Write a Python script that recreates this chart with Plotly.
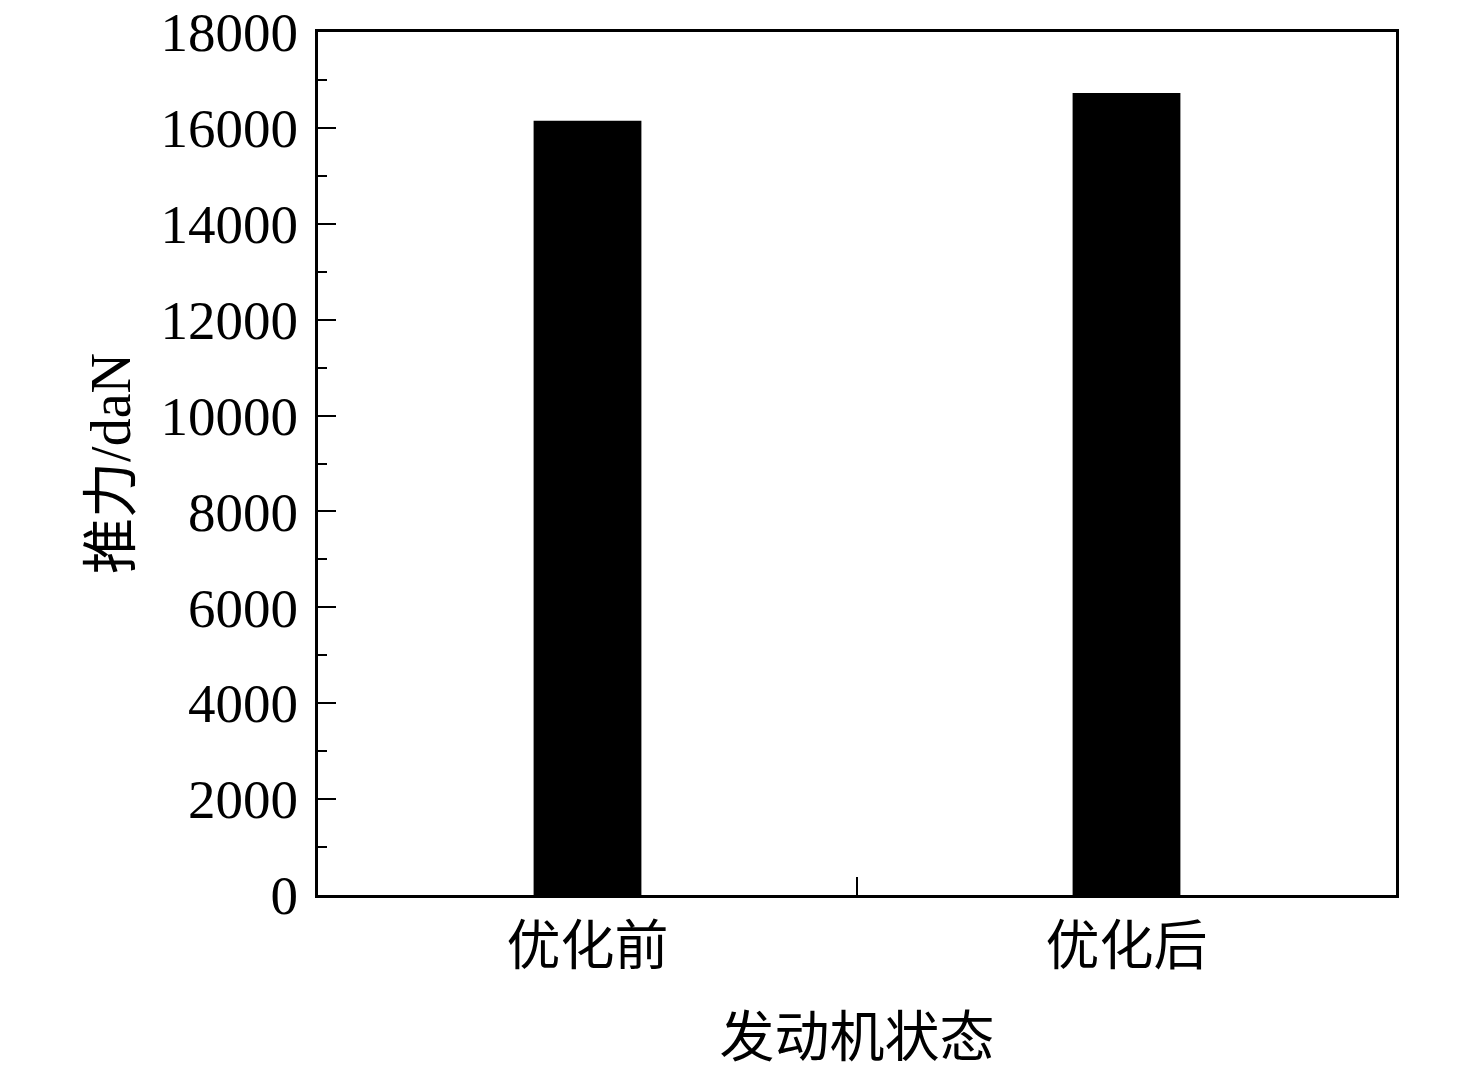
import plotly.graph_objects as go

# engine state vs thrust
states = ["优化前", "优化后"]
thrust = [16150, 16730]

y_ticks = [0, 2000, 4000, 6000, 8000, 10000, 12000, 14000, 16000, 18000]
y_labels = [str(v) for v in y_ticks]

fig = go.Figure()
fig.add_trace(go.Bar(x=states, y=thrust, width=0.2,
                     marker=dict(color="black", line=dict(width=0))))

font_family = "Liberation Serif, Times New Roman, Noto Sans CJK SC"

fig.update_layout(
    width=1476, height=1071,
    margin=dict(l=310, r=88, t=24, b=184, autoexpand=False),
    plot_bgcolor="white", paper_bgcolor="white",
    showlegend=False,
    font=dict(family=font_family, color="black"),
)

fig.update_xaxes(
    range=[-0.5, 1.5],
    automargin=False,
    showline=True, linecolor="black", linewidth=3, mirror=True,
    ticks="inside", tickson="boundaries", ticklen=18, tickwidth=2, tickcolor="black",
    tickfont=dict(size=54),
    ticklabelstandoff=2,
    title=dict(text="发动机状态", font=dict(size=55), standoff=42),
    showgrid=False, zeroline=False,
)

fig.update_yaxes(
    range=[0, 18000],
    automargin=False,
    tickvals=y_ticks, ticktext=y_labels,
    ticklabeloverflow="allow",
    showline=True, linecolor="black", linewidth=3, mirror=True,
    ticks="inside", ticklen=18, tickwidth=2, tickcolor="black",
    minor=dict(ticks="inside", ticklen=9, tickwidth=2, tickcolor="black", dtick=1000),
    tickfont=dict(size=55),
    ticklabelstandoff=6,
    title=dict(text="推力/daN", font=dict(size=56), standoff=12),
    showgrid=False, zeroline=False,
)

fig.write_html("out.html")
